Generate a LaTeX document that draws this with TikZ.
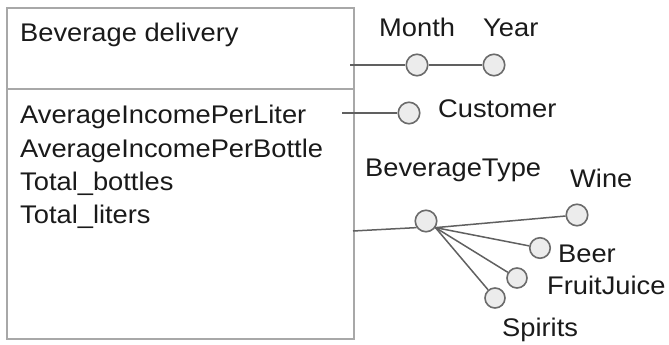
\documentclass[tikz,border=0pt]{standalone}
\usepackage{fontspec}
\setmainfont{Liberation Sans}[FakeStretch=1.07]
\definecolor{boxgray}{HTML}{A8A8A8}
\definecolor{linkgray}{HTML}{606060}
\definecolor{lvlfill}{HTML}{ECECEC}
\definecolor{lvldraw}{HTML}{6B6B6B}
\definecolor{txt}{HTML}{1A1A1A}
\begin{document}
\begin{tikzpicture}[x=1pt,y=-1pt,
    lvl/.style={circle,draw=lvldraw,fill=lvlfill,line width=1.6pt,minimum size=21.5pt,inner sep=0pt},
    link/.style={draw=linkgray,line width=1.5pt},
    lbl/.style={anchor=base west,inner sep=0pt,text=txt,font=\fontsize{25.5}{31}\selectfont}]
  \useasboundingbox (0,0) rectangle (669,345);
  % fact box
  \node[draw=boxgray,line width=1.8pt,minimum width=347pt,minimum height=331pt,inner sep=0pt] (fact) at (180.5,173.5) {};
  \draw[boxgray,line width=1.8pt] (fact.west |- 0,89) -- (fact.east |- 0,89);
  \node[lbl] (title) at (20,42) {Beverage delivery};
  \node[lbl] (m1) at (20,123) {AverageIncomePerLiter};
  \node[lbl] (m2) at (20,157) {AverageIncomePerBottle};
  \node[lbl] (m3) at (20,190) {Total\_bottles};
  \node[lbl] (m4) at (20,223) {Total\_liters};
  % dimensions
  \coordinate (dimtime) at (350,65);
  \coordinate (dimcust) at (342,113);
  \coordinate (dimbev) at (353,231);
  \node[lvl] (month) at (417,65) {};
  \node[lvl] (year) at (494,65) {};
  \node[lvl] (cust) at (409,113) {};
  \node[lvl] (btype) at (426,221) {};
  \node[lvl] (wine) at (577,215) {};
  \node[lvl,minimum size=20.5pt] (beer) at (540,248) {};
  \node[lvl,minimum size=20pt] (juice) at (517,278) {};
  \node[lvl,minimum size=20pt] (spirits) at (495,298) {};
  \node[lbl] (monthlbl) at (379,37) {Month};
  \node[lbl] (yearlbl) at (483,37) {Year};
  \node[lbl] (custlbl) at (438,117) {Customer};
  \node[lbl] (btypelbl) at (365,176) {BeverageType};
  \node[lbl] (winelbl) at (570,187) {Wine};
  \node[lbl] (beerlbl) at (558,262) {Beer};
  \node[lbl] (juicelbl) at (547,294) {FruitJuice};
  \node[lbl] (spiritslbl) at (502,336) {Spirits};
  % hierarchies
  \draw[link] (dimtime) -- (month);
  \draw[link] (month) -- (year);
  \draw[link] (dimcust) -- (cust);
  \draw[link] (dimbev) -- (btype.-145);
  \foreach \lv in {wine,beer,juice,spirits}
    \draw[link] (btype.-35) -- (\lv);
\end{tikzpicture}
\end{document}
